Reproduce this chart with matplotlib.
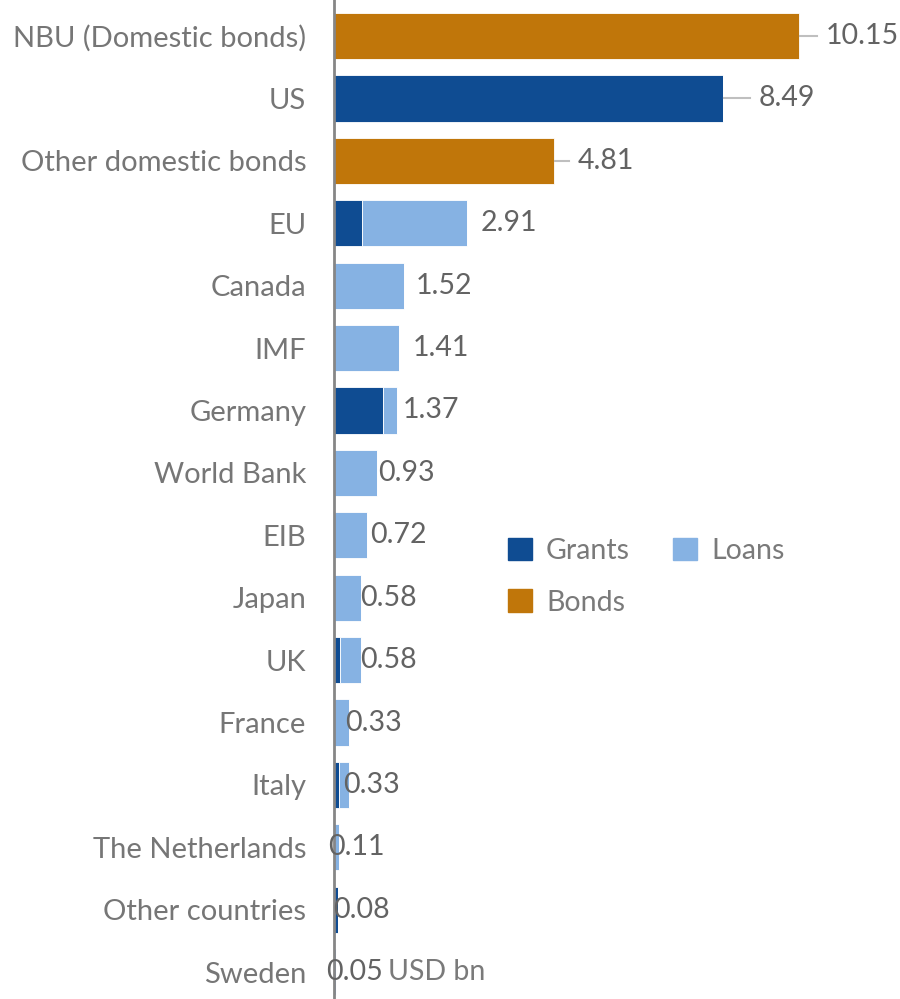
import numpy as np
import matplotlib.pyplot as plt
from matplotlib.patches import Patch

plt.rcParams['font.family'] = ['Lato', 'DejaVu Sans']

# data (USD bn)
donors = ["NBU (Domestic bonds)", "US", "Other domestic bonds", "EU", "Canada",
          "IMF", "Germany", "World Bank", "EIB", "Japan", "UK", "France",
          "Italy", "The Netherlands", "Other countries", "Sweden"]
grants = [0, 8.49, 0, 0.61, 0, 0, 1.07, 0, 0, 0, 0.13, 0, 0.12, 0, 0.08, 0]
loans = [0, 0, 0, 2.30, 1.52, 1.41, 0.30, 0.93, 0.72, 0.58, 0.45, 0.33,
         0.21, 0.11, 0, 0.05]
bonds = [10.15, 0, 4.81, 0, 0, 0, 0, 0, 0, 0, 0, 0, 0, 0, 0, 0]
totals = ["10.15", "8.49", "4.81", "2.91", "1.52", "1.41", "1.37", "0.93",
          "0.72", "0.58", "0.58", "0.33", "0.33", "0.11", "0.08", "0.05"]

# label placement tweaks (offset from bar end, data units)
lab_off = [0.59, 0.79, 0.52, 0.30, 0.27, 0.31, 0.14, 0.03, 0.07, -0.01,
           -0.01, -0.09, -0.13, -0.24, -0.10, -0.22]
leader = [True, True, True] + [False] * 13

c_grant = "#0F4C92"
c_loan = "#86B2E3"
c_bond = "#C0760A"
c_text = "#636363"

fig = plt.figure(figsize=(9, 9.99), dpi=100)
ax = fig.add_axes([334 / 900, 0, 1 - 334 / 900, 1])

y = np.arange(len(donors))
g = np.array(grants)
l = np.array(loans)
b = np.array(bonds)
h = 0.74
ax.barh(y, g, height=h, color=c_grant, edgecolor="white", linewidth=0.6)
ax.barh(y, l, left=g, height=h, color=c_loan, edgecolor="white", linewidth=0.6)
ax.barh(y, b, left=g + l, height=h, color=c_bond, edgecolor="white", linewidth=0.6)

ends = g + l + b
for i in range(len(donors)):
    lx = ends[i] + lab_off[i]
    if leader[i]:
        ax.plot([ends[i] + 0.02, lx - 0.2], [y[i], y[i]], color="#BFBFBF", lw=1.5)
    ax.text(lx, y[i], totals[i], va="center", ha="left", fontsize=20.5, color=c_text)

ax.text(ends[-1] + lab_off[-1] + 1.35, y[-1], "USD bn", va="center", ha="left",
        fontsize=20.5, color="#7a7a7a")

ax.set_xlim(0, (900 - 334) / 45.8)
ax.set_ylim(15.43, -0.577)
ax.set_yticks(y)
ax.set_yticklabels(donors, fontsize=21, color="#767676")
ax.tick_params(axis="y", length=0, pad=20)
ax.set_xticks([])
for s in ["top", "right", "bottom"]:
    ax.spines[s].set_visible(False)
ax.spines["left"].set_color("#868686")
ax.spines["left"].set_linewidth(2)

handles = [Patch(color=c_grant, label="Grants"), Patch(color=c_bond, label="Bonds"),
           Patch(color=c_loan, label="Loans")]
leg = fig.legend(handles=handles, ncol=2, loc="upper left",
                 bbox_to_anchor=(482 / 900, 1 - 512 / 999), frameon=False,
                 fontsize=20.5, handlelength=0.85, handleheight=0.85,
                 handletextpad=0.5, columnspacing=1.5, labelspacing=0.9,
                 labelcolor="#7a7a7a")

fig.savefig("out.png", dpi=100)
